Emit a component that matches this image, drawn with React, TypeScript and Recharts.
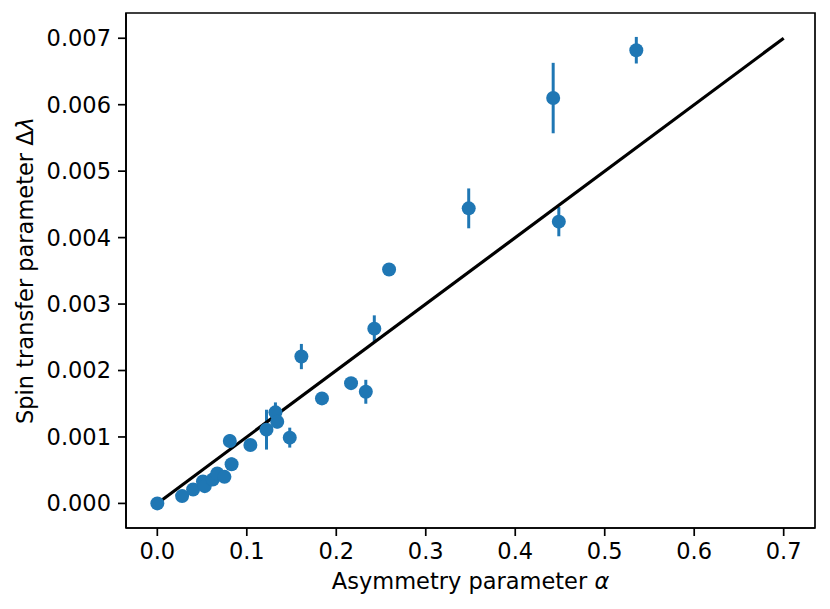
import React from "react";
import {
  ScatterChart,
  Scatter,
  XAxis,
  YAxis,
  ErrorBar,
  ReferenceArea,
  Label,
} from "recharts";

// Measured points: asymmetry parameter alpha vs spin transfer parameter Δλ
const alphaValues = [
  0, 0.0277, 0.04, 0.051, 0.053, 0.062, 0.067, 0.075, 0.083, 0.081, 0.104,
  0.122, 0.132, 0.134, 0.148, 0.161, 0.184, 0.2165, 0.233, 0.2425, 0.259,
  0.348, 0.4424, 0.4487, 0.5353,
];
const lambdaValues = [
  0, 0.00011, 0.00021, 0.00033, 0.00026, 0.00036, 0.00045, 0.0004, 0.00059,
  0.00094, 0.00088, 0.00111, 0.00137, 0.00123, 0.00099, 0.00221, 0.00158,
  0.00181, 0.00168, 0.00263, 0.00352, 0.00444, 0.0061, 0.00424, 0.00682,
];
const lambdaErrors = [
  0, 0, 0, 0, 0, 0, 0, 0, 0.0001, 0.0001, 0, 0.0003, 0.00015, 0.0001,
  0.00015, 0.00019, 0.00008, 0, 0.00018, 0.0002, 0, 0.0003, 0.00053,
  0.00022, 0.0002,
];

// Fit line
const fitAlpha = [0, 0.7];
const fitLambda = [0, 0.007];

const xTicks = [0, 0.1, 0.2, 0.3, 0.4, 0.5, 0.6, 0.7];
const yTicks = [0, 0.001, 0.002, 0.003, 0.004, 0.005, 0.006, 0.007];

const X_DOMAIN: [number, number] = [-0.035, 0.735];
const Y_DOMAIN: [number, number] = [-0.00037, 0.00738];

const points = alphaValues.map((a, i) => ({
  x: a,
  y: lambdaValues[i],
  err: lambdaErrors[i],
}));
const fitData = fitAlpha.map((a, i) => ({ x: a, y: fitLambda[i] }));

const BLUE = "#1f77b4";
const FONT = "DejaVu Sans";
const FS = 22.5;

const XLabel = (props: any) => {
  const vb = props.viewBox || {};
  const cx = vb.x + vb.width / 2;
  return (
    <text
      x={cx}
      y={589}
      textAnchor="middle"
      fontFamily={FONT}
      fontSize={FS}
      fill="#000"
    >
      Asymmetry parameter <tspan fontStyle="italic">α</tspan>
    </text>
  );
};

const YLabel = (props: any) => {
  const vb = props.viewBox || {};
  const cy = vb.y + vb.height / 2;
  const x = 33;
  return (
    <text
      x={x}
      y={cy}
      transform={`rotate(-90 ${x} ${cy})`}
      textAnchor="middle"
      fontFamily={FONT}
      fontSize={FS}
      fill="#000"
    >
      Spin transfer parameter Δ<tspan fontStyle="italic">λ</tspan>
    </text>
  );
};

const Dot = (p: any) => <circle cx={p.cx} cy={p.cy} r={7} fill={BLUE} />;
const NoDot = () => <g />;

export default function App() {
  return (
    <div style={{ position: "absolute", left: 0, top: 0, background: "#fff" }}>
      <ScatterChart
        width={830}
        height={609}
        margin={{ top: 13, right: 15, bottom: 0, left: 0 }}
      >
        <XAxis
          type="number"
          dataKey="x"
          domain={X_DOMAIN}
          allowDataOverflow
          ticks={xTicks}
          tickFormatter={(v: number) => v.toFixed(1)}
          height={81}
          tickSize={8}
          tickMargin={7}
          axisLine={{ stroke: "#000", strokeWidth: 1.7 }}
          tickLine={{ stroke: "#000", strokeWidth: 1.7 }}
          tick={{ fill: "#000", fontFamily: FONT, fontSize: FS }}
          interval={0}
        >
          <Label content={<XLabel />} />
        </XAxis>
        <YAxis
          type="number"
          dataKey="y"
          domain={Y_DOMAIN}
          allowDataOverflow
          ticks={yTicks}
          tickFormatter={(v: number) => v.toFixed(3)}
          width={126}
          tickSize={8}
          tickMargin={7}
          axisLine={{ stroke: "#000", strokeWidth: 1.7 }}
          tickLine={{ stroke: "#000", strokeWidth: 1.7 }}
          tick={{ fill: "#000", fontFamily: FONT, fontSize: FS }}
          interval={0}
        >
          <Label content={<YLabel />} />
        </YAxis>
        <ReferenceArea
          x1={X_DOMAIN[0]}
          x2={X_DOMAIN[1]}
          y1={Y_DOMAIN[0]}
          y2={Y_DOMAIN[1]}
          fill="none"
          fillOpacity={0}
          stroke="#000"
          strokeWidth={1.7}
          ifOverflow="visible"
        />
        <Scatter
          data={fitData}
          line={{ stroke: "#000", strokeWidth: 3.2 }}
          shape={<NoDot />}
          isAnimationActive={false}
        />
        <Scatter data={points} shape={<Dot />} isAnimationActive={false}>
          <ErrorBar
            dataKey="err"
            direction="y"
            width={0}
            stroke={BLUE}
            strokeWidth={3}
            isAnimationActive={false}
          />
        </Scatter>
      </ScatterChart>
    </div>
  );
}
